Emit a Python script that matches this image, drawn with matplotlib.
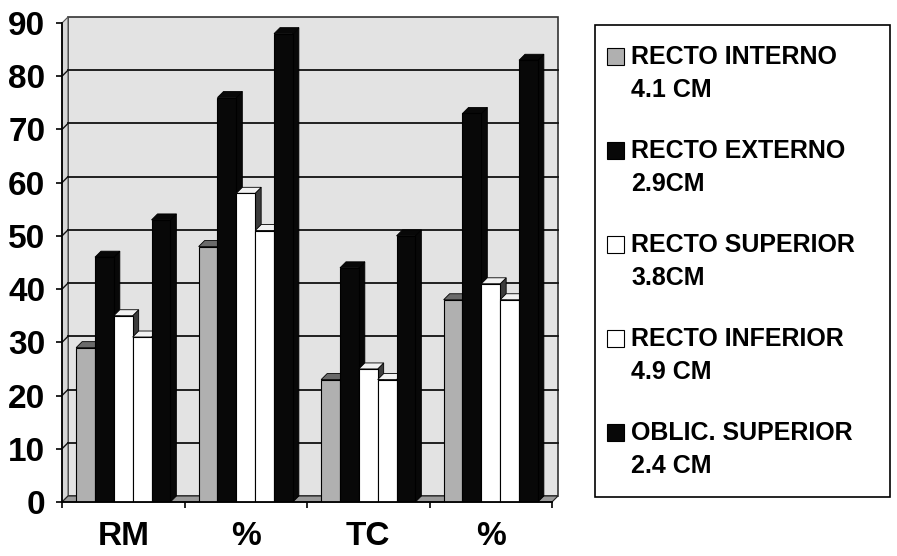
import matplotlib
matplotlib.use("Agg")
import matplotlib.pyplot as plt
from matplotlib.patches import Polygon, Rectangle

plt.rcParams['font.family'] = ['Liberation Sans', 'DejaVu Sans']
plt.rcParams['font.weight'] = 'bold'

# data
categories = ["RM", "%", "TC", "%"]
series_names = ["RECTO INTERNO", "RECTO EXTERNO", "RECTO SUPERIOR",
                "RECTO INFERIOR", "OBLIC. SUPERIOR"]
series_sizes = ["4.1 CM", "2.9CM", "3.8CM", "4.9 CM", "2.4 CM"]
recto_interno = [29, 48, 23, 38]
recto_externo = [46, 76, 44, 73]
recto_superior = [35, 58, 25, 41]
recto_inferior = [31, 51, 23, 38]
oblic_superior = [53, 88, 50, 83]
values = [recto_interno, recto_externo, recto_superior, recto_inferior, oblic_superior]

# front, top, side colours per series
front = ["#b0b0b0", "#080808", "#ffffff", "#ffffff", "#080808"]
top = ["#6a6a6a", "#080808", "#f2f2f2", "#f2f2f2", "#080808"]
side = ["#4a4a4a", "#080808", "#3c3c3c", "#3c3c3c", "#080808"]

W, H = 897, 556
fig = plt.figure(figsize=(W / 100, H / 100), dpi=100)
fig.patch.set_facecolor("white")
ax = fig.add_axes([62 / W, 54 / H, 490 / W, 479 / H])
ax.set_xlim(0, 4)
ax.set_ylim(0, 90)
ax.patch.set_visible(False)

# 3d depth in pixels -> data units
depth = 6
dx = depth / (490 / 4)
dy = depth / (479 / 90)

# walls and floor
ax.add_patch(Polygon([(dx, dy), (4 + dx, dy), (4 + dx, 90 + dy), (dx, 90 + dy)],
                     closed=True, fc="#e3e3e3", ec="#333333", lw=1.2, zorder=0.5, clip_on=False))
ax.add_patch(Polygon([(0, 0), (dx, dy), (dx, 90 + dy), (0, 90)],
                     closed=True, fc="#d6d6d6", ec="#555555", lw=0.8, zorder=0.6, clip_on=False))
ax.add_patch(Polygon([(0, 0), (4, 0), (4 + dx, dy), (dx, dy)],
                     closed=True, fc="#9a9a9a", ec="#222222", lw=0.8, zorder=0.7, clip_on=False))
for v in range(10, 90, 10):
    ax.plot([dx, 4 + dx], [v + dy, v + dy], color="#111111", lw=1.3, zorder=0.8, clip_on=False)
    ax.plot([0, dx], [v, v + dy], color="#111111", lw=1.0, zorder=0.8, clip_on=False)

# bars, gap width 150%
n = len(values)
w = 1 / (n + 1.5)
centers = [i + 0.5 for i in range(len(categories))]
for s in range(n):
    xs = [c + (s - (n - 1) / 2) * w for c in centers]
    bars = ax.bar(xs, values[s], width=w, color=front[s], edgecolor="black", lw=0.8)
    for g, rect in enumerate(bars):
        z = 2 + (g * n + s) * 0.01
        rect.set_zorder(z + 0.005)
        x0 = rect.get_x()
        x1 = x0 + rect.get_width()
        h = rect.get_height()
        ax.add_patch(Polygon([(x1, 0), (x1, h), (x1 + dx, h + dy), (x1 + dx, dy)],
                             closed=True, fc=side[s], ec="black", lw=0.6, zorder=z, clip_on=False))
        ax.add_patch(Polygon([(x0, h), (x1, h), (x1 + dx, h + dy), (x0 + dx, h + dy)],
                             closed=True, fc=top[s], ec="black", lw=0.6, zorder=z, clip_on=False))

# axes
for sp in ["top", "right"]:
    ax.spines[sp].set_visible(False)
for sp in ["left", "bottom"]:
    ax.spines[sp].set_linewidth(1.3)
    ax.spines[sp].set_zorder(5)
ax.set_yticks(range(0, 91, 10))
ax.tick_params(axis="y", direction="out", length=4, width=1.2, labelsize=24, pad=8)
ax.set_xticks(range(0, 5))
ax.set_xticklabels([])
ax.set_xticks(centers, minor=True)
ax.set_xticklabels(categories, minor=True)
ax.tick_params(axis="x", which="major", direction="out", length=4.5, width=1.2)
ax.tick_params(axis="x", which="minor", length=0, labelsize=24, pad=14)
for lab in ax.get_yticklabels() + ax.get_xticklabels(minor=True):
    lab.set_fontweight("bold")

# legend box
lx0, lx1, ly0, ly1 = 595, 890, 25, 497
fig.patches.append(Rectangle((lx0 / W, 1 - ly1 / H), (lx1 - lx0) / W, (ly1 - ly0) / H,
                             transform=fig.transFigure, fc="white", ec="black", lw=1.2))
for s in range(n):
    yc = 57 + 94 * s
    fig.patches.append(Rectangle((607 / W, 1 - (yc + 8) / H), 17 / W, 17 / H,
                                 transform=fig.transFigure, fc=front[s], ec="black", lw=0.8))
    fig.text(631 / W, 1 - yc / H, series_names[s], fontsize=18, fontweight="bold",
             va="center", ha="left")
    fig.text(631 / W, 1 - (yc + 33) / H, series_sizes[s], fontsize=18, fontweight="bold",
             va="center", ha="left")

fig.savefig("out.png", dpi=100)
